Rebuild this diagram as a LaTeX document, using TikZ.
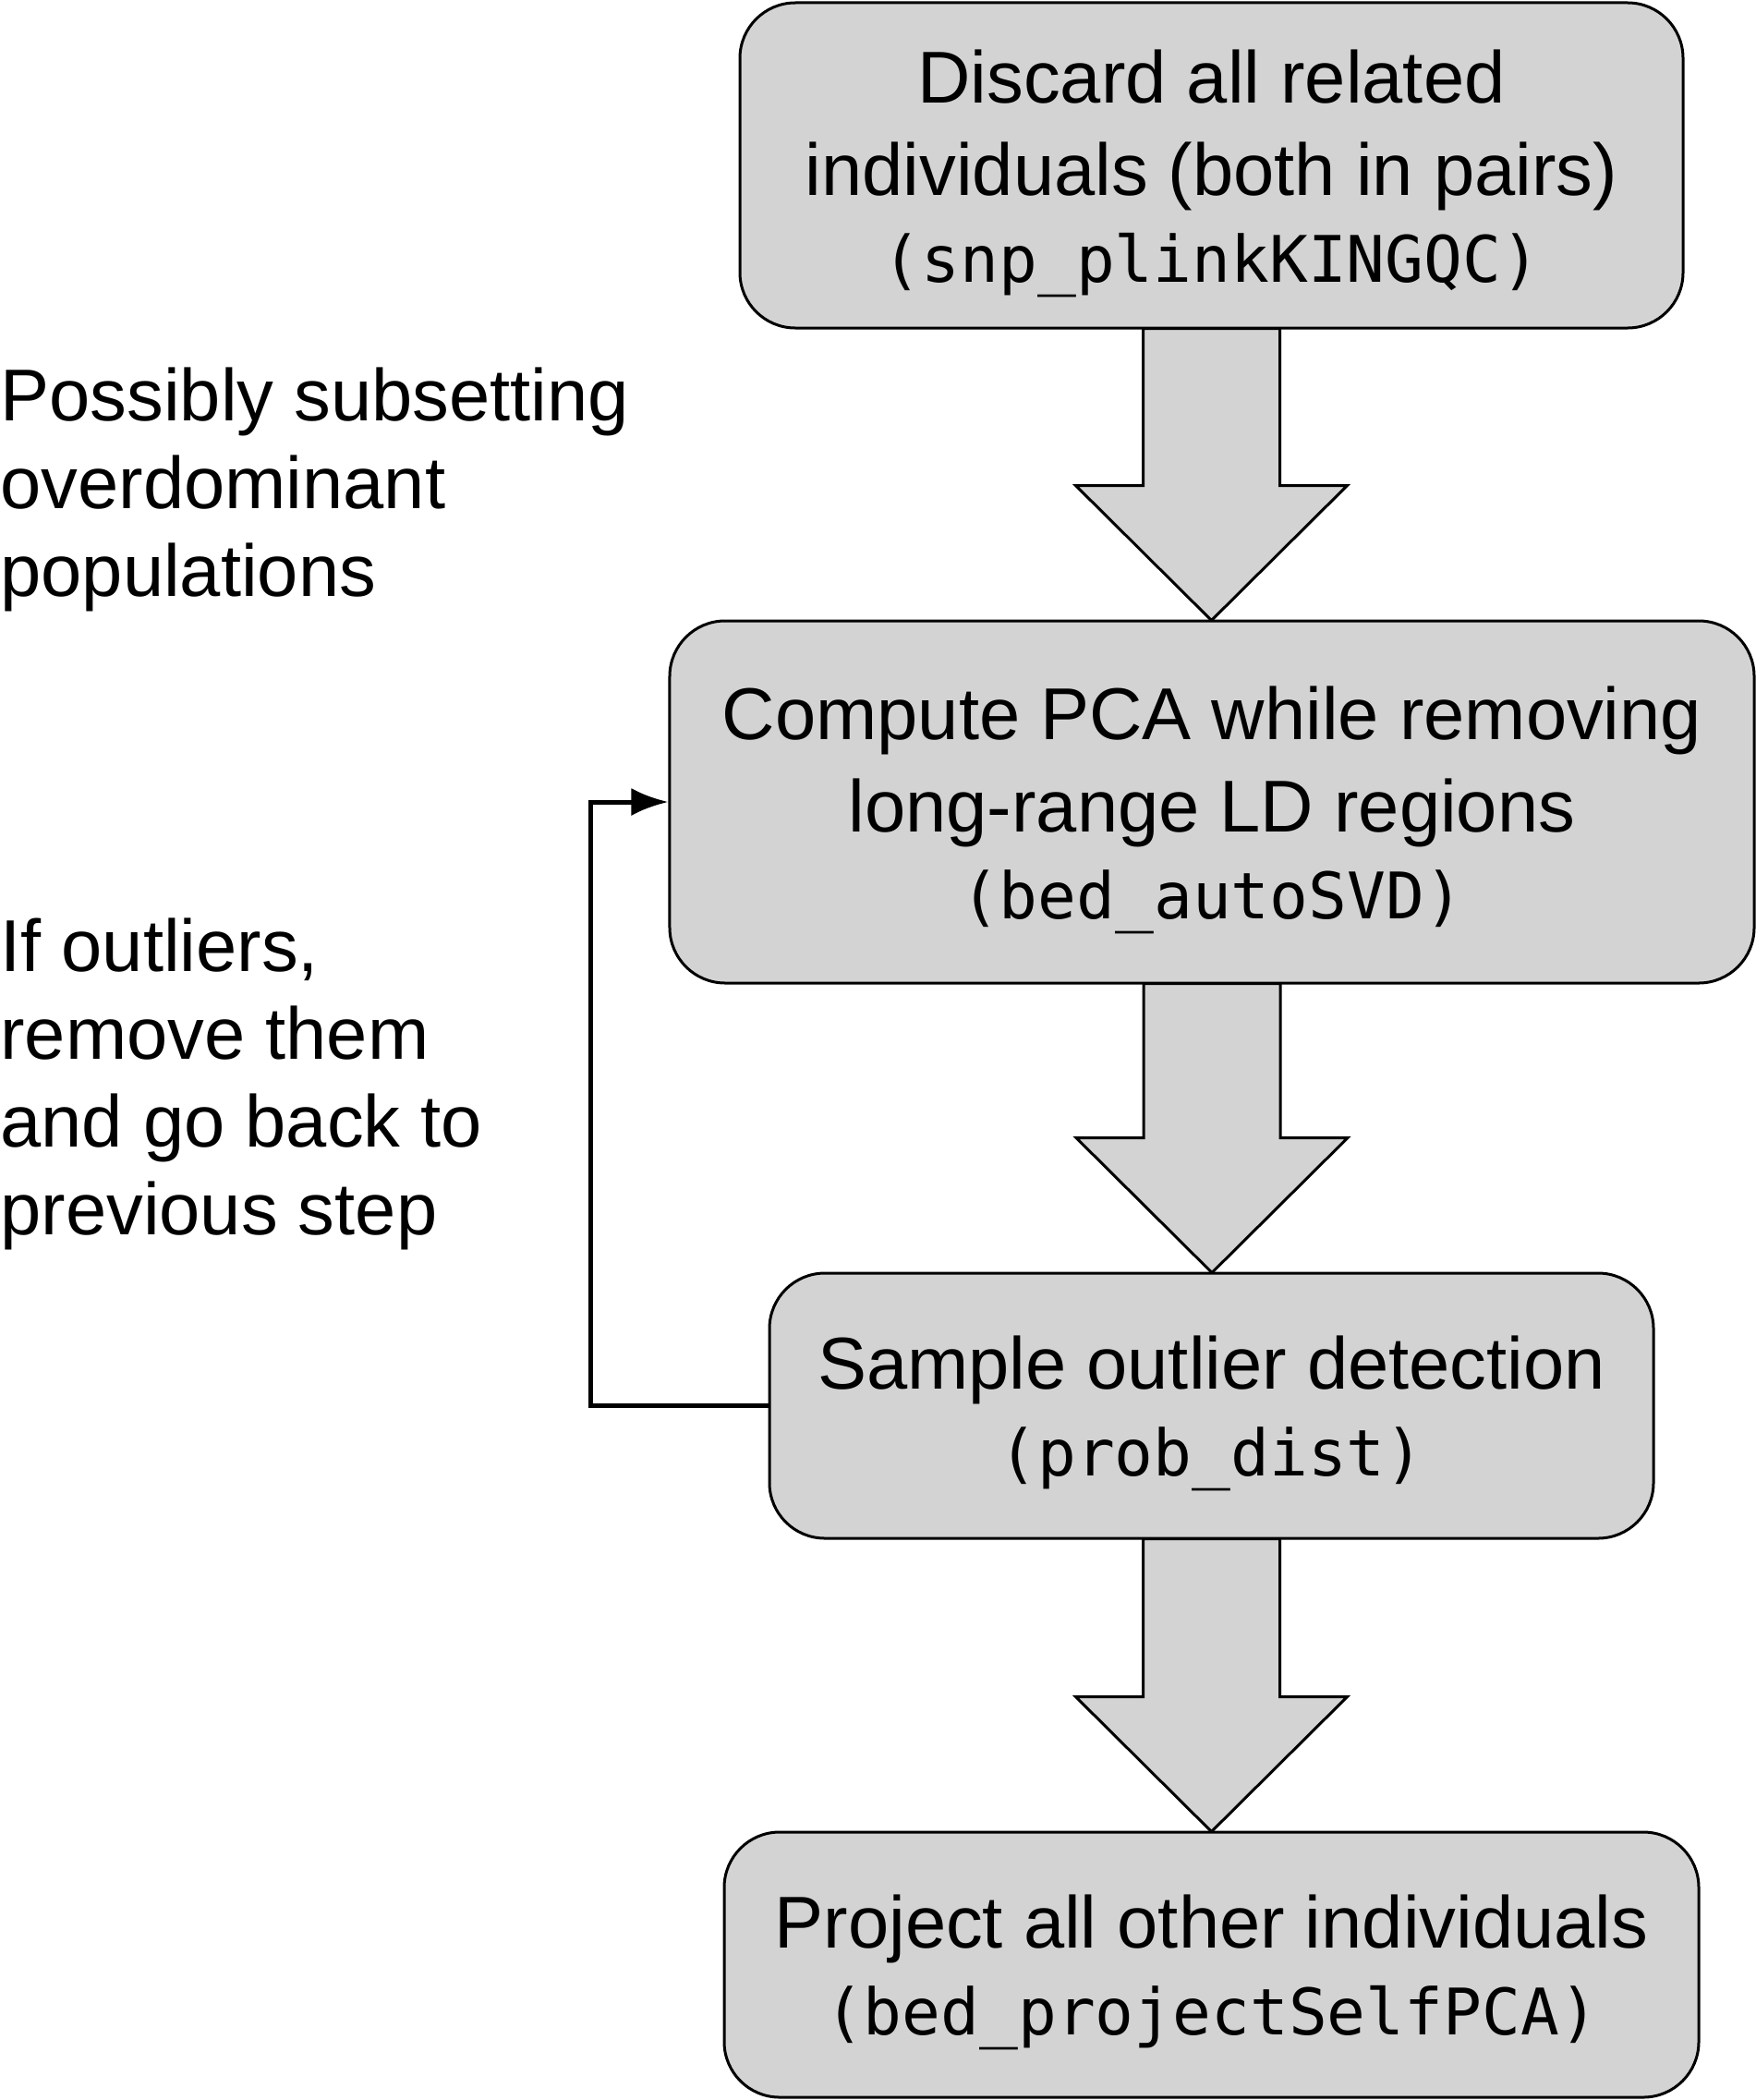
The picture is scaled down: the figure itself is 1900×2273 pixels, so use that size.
\documentclass[tikz,border=0pt]{standalone}
\usepackage{fontspec}
\setmainfont{Liberation Sans}
\newfontfamily\codefont{DejaVu Sans Mono}
\usetikzlibrary{calc,arrows.meta}
\definecolor{boxgray}{HTML}{D3D3D3}
\newcommand{\code}[1]{{\codefont\fontsize{27.8pt}{40pt}\selectfont #1}}
\newcommand{\tp}{\rule{0pt}{30.1pt}}
\newcommand{\blockarrow}[2]{%
  \draw[bigarrow] let \p1=(#1.south), \p2=(#2.north) in
    (\x1-29.6pt,\y1) -- (\x1-29.6pt,\y2+58.4pt) -- (\x1-58.8pt,\y2+58.4pt) --
    (\x1,\y2) -- (\x1+58.8pt,\y2+58.4pt) -- (\x1+29.6pt,\y2+58.4pt) --
    (\x1+29.6pt,\y1) -- cycle;}
\begin{document}
\begin{tikzpicture}[x=0.4pt,y=-0.4pt,
  stepbox/.style={draw=black,line width=1.2pt,fill=boxgray,rounded corners=24pt,
    inner sep=0pt,align=center,font=\fontsize{31.8pt}{40pt}\selectfont},
  sidetext/.style={inner sep=0pt,align=left,anchor=north west,
    font=\fontsize{31.8pt}{38pt}\selectfont},
  bigarrow/.style={draw=black,line width=1.2pt,fill=boxgray,line join=miter},
  loopline/.style={draw=black,line width=2pt,line join=miter,
    -{Latex[length=16pt,width=12pt]}}]
\useasboundingbox (0,0) rectangle (1900,2273);
% coordinates of box centres
\coordinate (c1) at (1311.5,179);
\coordinate (c2) at (1312,868);
\coordinate (c3) at (1311.5,1521.5);
\coordinate (c4) at (1311.5,2126.5);
% invisible placeholders for arrows (boxes drawn after)
\path (c1) node[minimum width=408.4pt,minimum height=140.8pt,inner sep=0pt] (p1) {};
\path (c2) node[minimum width=469.6pt,minimum height=156.8pt,inner sep=0pt] (p2) {};
\path (c3) node[minimum width=382.8pt,minimum height=114.8pt,inner sep=0pt] (p3) {};
\path (c4) node[minimum width=422pt,minimum height=114.8pt,inner sep=0pt] (p4) {};
\blockarrow{p1}{p2}
\blockarrow{p2}{p3}
\blockarrow{p3}{p4}
\node[stepbox,minimum width=408.4pt,minimum height=140.8pt] (b1) at (c1)
  {\tp Discard all related\\individuals (both in pairs)\\[-2.4pt]\code{(snp\_plinkKINGQC)}};
\node[stepbox,minimum width=469.6pt,minimum height=156.8pt] (b2) at (c2)
  {\tp Compute PCA while removing\\long-range LD regions\\[-2.4pt]\code{(bed\_autoSVD)}};
\node[stepbox,minimum width=382.8pt,minimum height=114.8pt] (b3) at (c3)
  {\tp Sample outlier detection\\[-2.4pt]\code{(prob\_dist)}};
\node[stepbox,minimum width=422pt,minimum height=114.8pt] (b4) at (c4)
  {\tp Project all other individuals\\[-2.4pt]\code{(bed\_projectSelfPCA)}};
% feedback loop
\coordinate (lp) at (639,0);
\draw[loopline] (b3.west) -- (b3.west -| lp) -- (b2.west -| lp) -- (b2.west);
% side texts
\node[sidetext] (t1) at (0,397) {Possibly subsetting\\overdominant\\populations};
\node[sidetext] (t2) at (0,993) {If outliers,\\remove them\\and go back to\\previous step};
\end{tikzpicture}
\end{document}
